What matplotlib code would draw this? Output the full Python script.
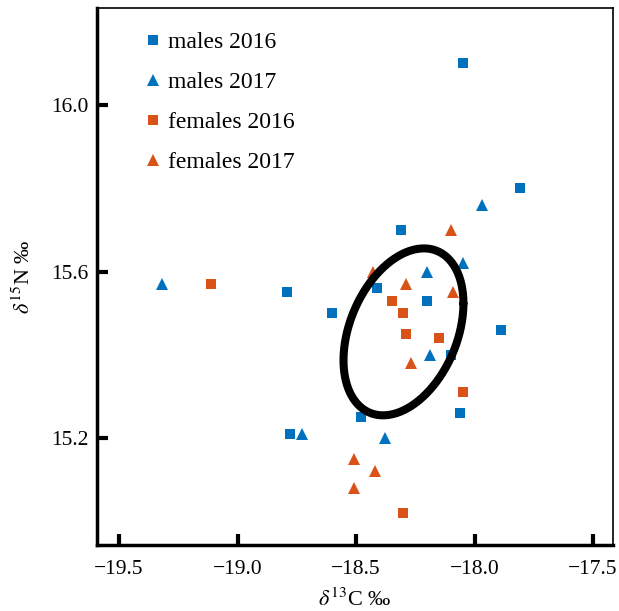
import numpy as np
import matplotlib
matplotlib.use("Agg")
import matplotlib.pyplot as plt

plt.rcParams["font.family"] = ["Liberation Serif", "DejaVu Serif"]
plt.rcParams["mathtext.fontset"] = "stix"

# ── data ──────────────────────────────────────────────────
m16_x = [-18.05, -17.81, -18.31, -18.79, -18.41, -18.20, -18.60, -17.89,
         -18.10, -18.48, -18.06, -18.78]
m16_y = [16.10, 15.80, 15.70, 15.55, 15.56, 15.53, 15.50, 15.46,
         15.40, 15.25, 15.26, 15.21]

m17_x = [-19.32, -17.97, -18.20, -18.05, -18.19, -18.73, -18.38]
m17_y = [15.57, 15.76, 15.60, 15.62, 15.40, 15.21, 15.20]

f16_x = [-19.11, -18.35, -18.30, -18.29, -18.15, -18.05, -18.30]
f16_y = [15.57, 15.53, 15.50, 15.45, 15.44, 15.31, 15.02]

f17_x = [-18.43, -18.10, -18.29, -18.09, -18.27, -18.51, -18.42, -18.51]
f17_y = [15.60, 15.70, 15.57, 15.55, 15.38, 15.15, 15.12, 15.08]

# ellipse: centre, half-extents, correlation
ell_cx, ell_cy = -18.30, 15.455
ell_sx, ell_sy = 0.253, 0.2005
ell_r = 0.34

BLUE = "#0072BD"
ORANGE = "#D95319"

fig = plt.figure(figsize=(6.19, 6.11), dpi=100)
ax = fig.add_axes([97 / 619, 1 - 545 / 611, 516 / 619, 537 / 611])

ax.plot(m16_x, m16_y, "s", color=BLUE, ms=6.5, mew=0, label="males 2016")
ax.plot(m17_x, m17_y, "^", color=BLUE, ms=8, mew=0, label="males 2017")
ax.plot(f16_x, f16_y, "s", color=ORANGE, ms=6.5, mew=0, label="females 2016")
ax.plot(f17_x, f17_y, "^", color=ORANGE, ms=8, mew=0, label="females 2017")

# ellipse outline from covariance-like matrix
S = np.array([[ell_sx**2, ell_r * ell_sx * ell_sy],
              [ell_r * ell_sx * ell_sy, ell_sy**2]])
L = np.linalg.cholesky(S)
t = np.linspace(0, 2 * np.pi, 300)
pts = L @ np.vstack([np.cos(t), np.sin(t)])
ax.plot(pts[0] + ell_cx, pts[1] + ell_cy, color="black", lw=5.8,
        solid_capstyle="round")

ax.set_xlim(-19.593, -17.416)
ax.set_ylim(14.943, 16.233)
ax.set_xticks([-19.5, -19.0, -18.5, -18.0, -17.5])
ax.set_yticks([15.2, 15.6, 16.0])
ax.set_xticklabels(["\u221219.5", "\u221219.0", "\u221218.5", "\u221218.0", "\u221217.5"])
ax.tick_params(direction="in", length=8, width=3, labelsize=15.5)
ax.tick_params(axis="x", pad=11)
ax.tick_params(axis="y", pad=6)

for side in ["left", "bottom"]:
    ax.spines[side].set_linewidth(2.5)
for side in ["top", "right"]:
    ax.spines[side].set_linewidth(1.2)

ax.set_xlabel(r"$\delta^{13}$C ‰", fontsize=16, labelpad=7)
ax.set_ylabel(r"$\delta^{15}$N ‰", fontsize=16, labelpad=12)

ax.legend(loc="upper left", frameon=False, fontsize=17, handlelength=0.6,
          handletextpad=0.3, labelspacing=0.78, borderaxespad=0.4,
          bbox_to_anchor=(0.059, 0.991))

fig.savefig("out.png", dpi=100)
